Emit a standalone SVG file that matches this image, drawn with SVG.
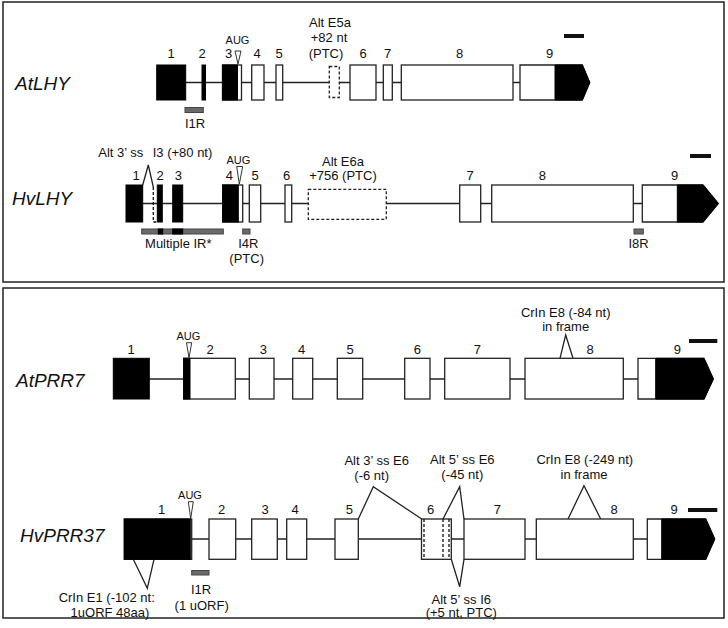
<svg xmlns="http://www.w3.org/2000/svg" width="728" height="628" viewBox="0 0 728 628">
<style>
text{font-family:"Liberation Sans",Arial,sans-serif;fill:#111}
.l{font-size:13px;text-anchor:middle}
.s{font-size:13px}
.a{font-size:11px;text-anchor:middle}
.g{font-size:19px;font-style:italic}
.ex{fill:#fff;stroke:#222;stroke-width:1.3}
.k{fill:#000;stroke:#000;stroke-width:1}
.d{fill:#fff;stroke:#222;stroke-width:1.3;stroke-dasharray:3 2}
.dl{fill:none;stroke:#111;stroke-width:1.3;stroke-dasharray:3 2}
.in{fill:none;stroke:#222;stroke-width:1.3}
.ir{fill:#6a6a6a;stroke:#444;stroke-width:1}
.tri{fill:#fff;stroke:#333;stroke-width:1}
.sb{fill:#111}
.frame{fill:#fff;stroke:#222;stroke-width:1.5}
</style>
<rect class="frame" x="3" y="2" width="721" height="280"/>
<rect class="frame" x="3" y="288" width="721" height="330"/>

<g id="connectors">
<line class="in" x1="185" y1="82.5" x2="520" y2="82.5"/>
<line class="in" x1="142" y1="203.5" x2="642" y2="203.5"/>
<polyline class="in" points="142.7,185 148.3,165 153.3,187"/>
<line class="in" x1="149" y1="379" x2="638" y2="379"/>
<polyline class="in" points="560,358.3 565.7,335 573,358.3"/>
<line class="in" x1="191" y1="539" x2="647" y2="539"/>
<polyline class="in" points="358.3,519 373.3,486.7 421.7,519"/>
<polyline class="in" points="443,519 459.7,486.7 464,519"/>
<polyline class="in" points="451.3,559.3 459.7,586.7 464,559.3"/>
<polyline class="in" points="568,519 584,485.7 600.7,519"/>
<polyline class="in" points="133.3,559.3 147.3,588.3 154,559.3"/>
</g>

<g id="AtLHY">
<text class="g" x="15" y="90">AtLHY</text>
<rect class="sb" x="564" y="34" width="20" height="4"/>
<g id="AtLHY-e1"><rect class="k" x="156.7" y="65" width="29" height="35"/><text class="l" x="171" y="58">1</text></g>
<g id="AtLHY-e2"><rect class="k" x="202" y="65" width="3.5" height="35"/><text class="l" x="202" y="58">2</text></g>
<g id="AtLHY-e3"><rect class="ex" x="222.5" y="65" width="19" height="35"/><rect class="k" x="222.5" y="65" width="15" height="35"/><text class="l" x="228.5" y="58">3</text></g>
<g id="AtLHY-aug"><text class="a" x="237.5" y="44">AUG</text><polygon class="tri" points="235,51 241,51 238,64"/></g>
<g id="AtLHY-e4"><rect class="ex" x="251.7" y="65" width="12.3" height="35"/><text class="l" x="257" y="58">4</text></g>
<g id="AtLHY-e5"><rect class="ex" x="276" y="65" width="6.7" height="35"/><text class="l" x="279" y="58">5</text></g>
<g id="AtLHY-e5a"><rect class="d" x="329.3" y="66.5" width="10" height="31"/><text class="l" x="330" y="27">Alt E5a</text><text class="l" x="329" y="42">+82 nt</text><text class="l" x="326" y="58">(PTC)</text></g>
<g id="AtLHY-e6"><rect class="ex" x="350" y="65" width="26" height="35"/><text class="l" x="363" y="58">6</text></g>
<g id="AtLHY-e7"><rect class="ex" x="383.3" y="65" width="9" height="35"/><text class="l" x="387.5" y="58">7</text></g>
<g id="AtLHY-e8"><rect class="ex" x="401.3" y="65" width="111.7" height="35"/><text class="l" x="459.7" y="58">8</text></g>
<g id="AtLHY-e9"><path class="ex" d="M520,65 H582.3 L589.7,82.5 L582.3,100 H520 Z"/><path class="k" d="M555,65 H582.3 L589.7,82.5 L582.3,100 H555 Z"/><text class="l" x="549.7" y="58">9</text></g>
<g id="AtLHY-I1R"><rect class="ir" x="185" y="107.5" width="18.3" height="5"/><text class="l" x="195" y="128">I1R</text></g>
</g>

<g id="HvLHY">
<text class="g" x="12" y="205">HvLHY</text>
<rect class="sb" x="690" y="154" width="21" height="4"/>
<text class="s" x="98.3" y="157">Alt 3’ ss</text>
<text class="s" x="152.7" y="157">I3 (+80 nt)</text>
<g id="HvLHY-e1"><rect class="k" x="126" y="185" width="16.7" height="37"/><text class="l" x="136" y="180">1</text></g>
<path class="dl" d="M153.3,187 V222 H157.3"/>
<g id="HvLHY-e2"><rect class="k" x="157.3" y="185" width="5" height="37"/><text class="l" x="160" y="180">2</text></g>
<g id="HvLHY-e3"><rect class="k" x="172.7" y="185" width="10" height="37"/><text class="l" x="178.3" y="180">3</text></g>
<g id="HvLHY-e4"><rect class="ex" x="222.7" y="185" width="20" height="37"/><rect class="k" x="222.7" y="185" width="15.6" height="37"/><text class="l" x="229.3" y="180">4</text></g>
<g id="HvLHY-aug"><text class="a" x="238.3" y="164">AUG</text><polygon class="tri" points="236.7,166.5 242.7,166.5 239.3,184"/></g>
<g id="HvLHY-e5"><rect class="ex" x="249.3" y="185" width="11.4" height="37"/><text class="l" x="255" y="180">5</text></g>
<g id="HvLHY-e6"><rect class="ex" x="285" y="185" width="6.7" height="37"/><text class="l" x="286.7" y="180">6</text></g>
<g id="HvLHY-e6a"><rect class="d" x="308.3" y="189.3" width="78" height="30"/><text class="l" x="343" y="165.5">Alt E6a</text><text class="l" x="343" y="180">+756 (PTC)</text></g>
<g id="HvLHY-e7"><rect class="ex" x="459.7" y="185" width="21" height="37"/><text class="l" x="470" y="180">7</text></g>
<g id="HvLHY-e8"><rect class="ex" x="491.7" y="185" width="141.6" height="37"/><text class="l" x="542.3" y="180">8</text></g>
<g id="HvLHY-e9"><path class="ex" d="M642.3,185 H703 L718.3,203.5 L703,222 H642.3 Z"/><path class="k" d="M677.3,185 H703 L718.3,203.5 L703,222 H677.3 Z"/><text class="l" x="674.7" y="180">9</text></g>
<g id="HvLHY-IR"><rect class="ir" x="141.7" y="229" width="81.6" height="5"/><rect class="k" x="158.3" y="229" width="4.4" height="5" stroke-width="0.5"/><rect class="k" x="172.7" y="229" width="10" height="5" stroke-width="0.5"/><text class="l" x="178.3" y="248">Multiple IR*</text></g>
<g id="HvLHY-I4R"><rect class="ir" x="242.7" y="229" width="7.3" height="5"/><text class="l" x="248.3" y="248">I4R</text><text class="l" x="246.7" y="263">(PTC)</text></g>
<g id="HvLHY-I8R"><rect class="ir" x="634" y="229" width="9.3" height="5"/><text class="l" x="638.5" y="248">I8R</text></g>
</g>

<g id="AtPRR7">
<text class="g" x="16" y="387">AtPRR7</text>
<rect class="sb" x="689" y="339" width="28.3" height="4"/>
<g id="AtPRR7-e1"><rect class="k" x="113.3" y="358.3" width="36" height="40.7"/><text class="l" x="131" y="354">1</text></g>
<g id="AtPRR7-e2"><rect class="ex" x="183.7" y="358.3" width="51.6" height="40.7"/><rect class="k" x="183.7" y="358.3" width="6.3" height="40.7"/><text class="l" x="210" y="354">2</text></g>
<g id="AtPRR7-aug"><text class="a" x="188.3" y="340">AUG</text><polygon class="tri" points="186.5,342.7 191.7,342.7 189,358"/></g>
<g id="AtPRR7-e3"><rect class="ex" x="249.3" y="358.3" width="24.7" height="40.7"/><text class="l" x="263.3" y="354">3</text></g>
<g id="AtPRR7-e4"><rect class="ex" x="292.7" y="358.3" width="20" height="40.7"/><text class="l" x="301.7" y="354">4</text></g>
<g id="AtPRR7-e5"><rect class="ex" x="337.3" y="358.3" width="25.4" height="40.7"/><text class="l" x="350" y="354">5</text></g>
<g id="AtPRR7-e6"><rect class="ex" x="404.7" y="358.3" width="25.3" height="40.7"/><text class="l" x="417.3" y="354">6</text></g>
<g id="AtPRR7-e7"><rect class="ex" x="444.7" y="358.3" width="65.3" height="40.7"/><text class="l" x="477.3" y="354">7</text></g>
<g id="AtPRR7-e8"><rect class="ex" x="525" y="358.3" width="98.3" height="40.7"/><text class="l" x="590" y="354">8</text><text class="l" x="565.7" y="317">CrIn E8 (-84 nt)</text><text class="l" x="565.7" y="331">in frame</text></g>
<g id="AtPRR7-e9"><path class="ex" d="M638,358.3 H704 L713.3,379 L704,399 H638 Z"/><path class="k" d="M655.7,358.3 H704 L713.3,379 L704,399 H655.7 Z"/><text class="l" x="677.3" y="354">9</text></g>
</g>

<g id="HvPRR37">
<text class="g" x="20" y="542">HvPRR37</text>
<rect class="sb" x="688" y="508" width="29.3" height="4"/>
<g id="HvPRR37-e1"><rect class="ex" x="124.3" y="519" width="67.4" height="40.3"/><rect class="k" x="124.3" y="519" width="66" height="40.3"/><text class="l" x="161.7" y="514">1</text><text class="l" x="106.7" y="602">CrIn E1 (-102 nt:</text><text class="l" x="110" y="616.5">1uORF 48aa)</text></g>
<g id="HvPRR37-aug"><text class="a" x="190" y="499.3">AUG</text><polygon class="tri" points="188.3,501.7 193.3,501.7 190.7,518.5"/></g>
<g id="HvPRR37-e2"><rect class="ex" x="209" y="519" width="26.7" height="40.3"/><text class="l" x="221.7" y="514">2</text></g>
<g id="HvPRR37-e3"><rect class="ex" x="251.7" y="519" width="25.6" height="40.3"/><text class="l" x="265" y="514">3</text></g>
<g id="HvPRR37-e4"><rect class="ex" x="286.7" y="519" width="20" height="40.3"/><text class="l" x="295" y="514">4</text></g>
<g id="HvPRR37-e5"><rect class="ex" x="335" y="519" width="23.3" height="40.3"/><text class="l" x="349.3" y="514">5</text></g>
<g id="HvPRR37-e6"><rect class="ex" x="421.5" y="519" width="29.8" height="40.3"/><line class="dl" x1="424" y1="519" x2="424" y2="559.3"/><line class="dl" x1="443" y1="519" x2="443" y2="559.3"/><line class="dl" x1="449" y1="519" x2="449" y2="559.3"/><text class="l" x="430.7" y="514">6</text></g>
<g id="HvPRR37-e7"><rect class="ex" x="464" y="519" width="61" height="40.3"/><text class="l" x="497.3" y="514">7</text></g>
<g id="HvPRR37-e8"><rect class="ex" x="536.3" y="519" width="97" height="40.3"/><text class="l" x="614" y="514">8</text></g>
<g id="HvPRR37-e9"><path class="ex" d="M647.3,519 H705.7 L714.7,539 L705.7,559.3 H647.3 Z"/><path class="k" d="M661.7,519 H705.7 L714.7,539 L705.7,559.3 H661.7 Z"/><text class="l" x="674" y="514">9</text></g>
<g id="HvPRR37-I1R"><rect class="ir" x="191.7" y="570.5" width="17.3" height="4.5"/><text class="l" x="201" y="593.5">I1R</text><text class="l" x="201.7" y="609.5">(1 uORF)</text></g>
<text class="l" x="376.7" y="465">Alt 3’ ss E6</text>
<text class="l" x="371.7" y="480">(-6 nt)</text>
<text class="l" x="462.3" y="463.5">Alt 5’ ss E6</text>
<text class="l" x="462.3" y="478.5">(-45 nt)</text>
<text class="l" x="584.8" y="463.5">CrIn E8 (-249 nt)</text>
<text class="l" x="584" y="478.5">in frame</text>
<text class="l" x="461.3" y="603.5">Alt 5’ ss I6</text>
<text class="l" x="461.3" y="617">(+5 nt, PTC)</text>
</g>
</svg>
